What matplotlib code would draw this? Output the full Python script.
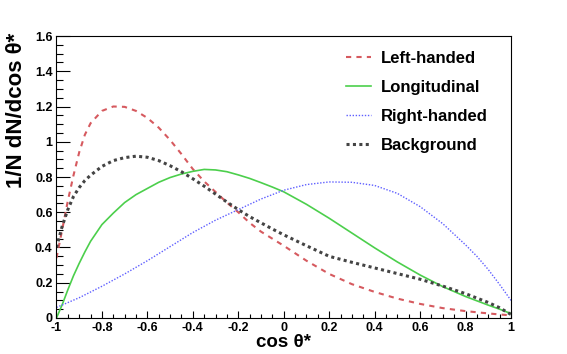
import matplotlib
matplotlib.use("Agg")
import matplotlib.pyplot as plt
from matplotlib.ticker import MultipleLocator

# ---- data ----
cos_theta = [-1.0, -0.975, -0.95, -0.925, -0.9, -0.875, -0.85, -0.8, -0.75, -0.7, -0.65,
             -0.6, -0.55, -0.5, -0.45, -0.4, -0.35, -0.3, -0.25, -0.2, -0.15,
             -0.1, -0.05, 0.0, 0.1, 0.2, 0.3, 0.4, 0.5, 0.6, 0.7, 0.8, 0.9, 0.95, 1.0]

left_handed = [0.34, 0.50, 0.665, 0.81, 0.94, 1.04, 1.105, 1.175, 1.20, 1.198, 1.175,
               1.135, 1.08, 1.01, 0.93, 0.845, 0.775, 0.715, 0.655, 0.60, 0.54,
               0.49, 0.45, 0.41, 0.325, 0.25, 0.192, 0.148, 0.11, 0.08, 0.056, 0.039, 0.026, 0.02, 0.015]

longitudinal = [0.0, 0.075, 0.16, 0.24, 0.31, 0.375, 0.435, 0.53, 0.595, 0.655, 0.70,
                0.735, 0.77, 0.797, 0.817, 0.832, 0.843, 0.84, 0.83, 0.812, 0.792,
                0.768, 0.743, 0.716, 0.645, 0.566, 0.482, 0.398, 0.318, 0.244, 0.178, 0.122, 0.073, 0.05, 0.025]

right_x = [-1.0, -0.9, -0.8, -0.7, -0.6, -0.5, -0.4, -0.3, -0.2, -0.1, 0.0,
           0.1, 0.2, 0.3, 0.4, 0.5, 0.6, 0.7, 0.8, 0.85, 0.9, 0.95, 1.0]
right_handed = [0.06, 0.115, 0.18, 0.25, 0.325, 0.405, 0.485, 0.555, 0.615, 0.675, 0.725,
                0.757, 0.772, 0.77, 0.752, 0.707, 0.632, 0.535, 0.415, 0.35, 0.275, 0.19, 0.10]

background = [0.40, 0.52, 0.615, 0.69, 0.74, 0.78, 0.81, 0.86, 0.893, 0.91, 0.918,
              0.912, 0.893, 0.864, 0.83, 0.79, 0.748, 0.703, 0.658, 0.615, 0.575,
              0.54, 0.505, 0.472, 0.41, 0.35, 0.316, 0.284, 0.252, 0.22, 0.181, 0.138, 0.088, 0.058, 0.02]

series_labels = ["Left-handed", "Longitudinal", "Right-handed", "Background"]

plt.rcParams['font.family'] = ['Liberation Sans', 'DejaVu Sans']
plt.rcParams['font.weight'] = 'bold'

fig = plt.figure(figsize=(5.67, 3.54), dpi=100)
ax = fig.add_axes([0.0996, 0.1017, 0.9012 - 0.0996, 0.8983 - 0.1017])

ax.plot(cos_theta, left_handed, color='#d65a5f', lw=1.5, linestyle=(0, (2.5, 2.5)),
        label=series_labels[0])
ax.plot(cos_theta, longitudinal, color='#4ccf4c', lw=1.2, linestyle='-',
        label=series_labels[1])
ax.plot(right_x, right_handed, color='#5f5fff', lw=1.0, linestyle=(0, (1, 1.2)),
        label=series_labels[2])
ax.plot(cos_theta, background, color='#444444', lw=2.2, linestyle=(0, (1, 1.1)),
        label=series_labels[3])

ax.set_xlim(-1, 1)
ax.set_ylim(0, 1.6)
ax.xaxis.set_major_locator(MultipleLocator(0.2))
ax.xaxis.set_minor_locator(MultipleLocator(0.05))
ax.yaxis.set_major_locator(MultipleLocator(0.2))
ax.yaxis.set_minor_locator(MultipleLocator(0.05))

def fmt(v, pos):
    s = f"{v:.1f}"
    if s.endswith(".0"):
        s = s[:-2]
    if s == "-0":
        s = "0"
    return s
ax.xaxis.set_major_formatter(plt.FuncFormatter(fmt))
ax.yaxis.set_major_formatter(plt.FuncFormatter(fmt))

ax.tick_params(axis='both', which='both', direction='in', top=False, right=False,
               labelsize=9, width=0.8)
ax.tick_params(axis='x', which='major', length=5.4, pad=3)
ax.tick_params(axis='x', which='minor', length=2.7)
ax.tick_params(axis='y', which='major', length=10, pad=2.8)
ax.tick_params(axis='y', which='minor', length=5)
for lab in ax.get_xticklabels() + ax.get_yticklabels():
    lab.set_fontweight('bold')
for sp in ax.spines.values():
    sp.set_linewidth(0.8)

ax.set_xlabel("cos θ*", fontsize=13.5, fontweight='bold', va='center')
ax.xaxis.set_label_coords(0.5, -0.086)
ax.set_ylabel("1/N dN/dcos θ*", fontsize=16, fontweight='bold', loc='top')
ax.yaxis.set_label_coords(-0.064, 1.012)

leg = ax.legend(loc='upper left', bbox_to_anchor=(0.637, 0.9466), frameon=False,
                borderpad=0, borderaxespad=0, handlelength=1.52, handletextpad=0.6,
                labelspacing=0.84, prop={'size': 12, 'weight': 'bold'})

fig.savefig("out.png", dpi=100, facecolor='white')
